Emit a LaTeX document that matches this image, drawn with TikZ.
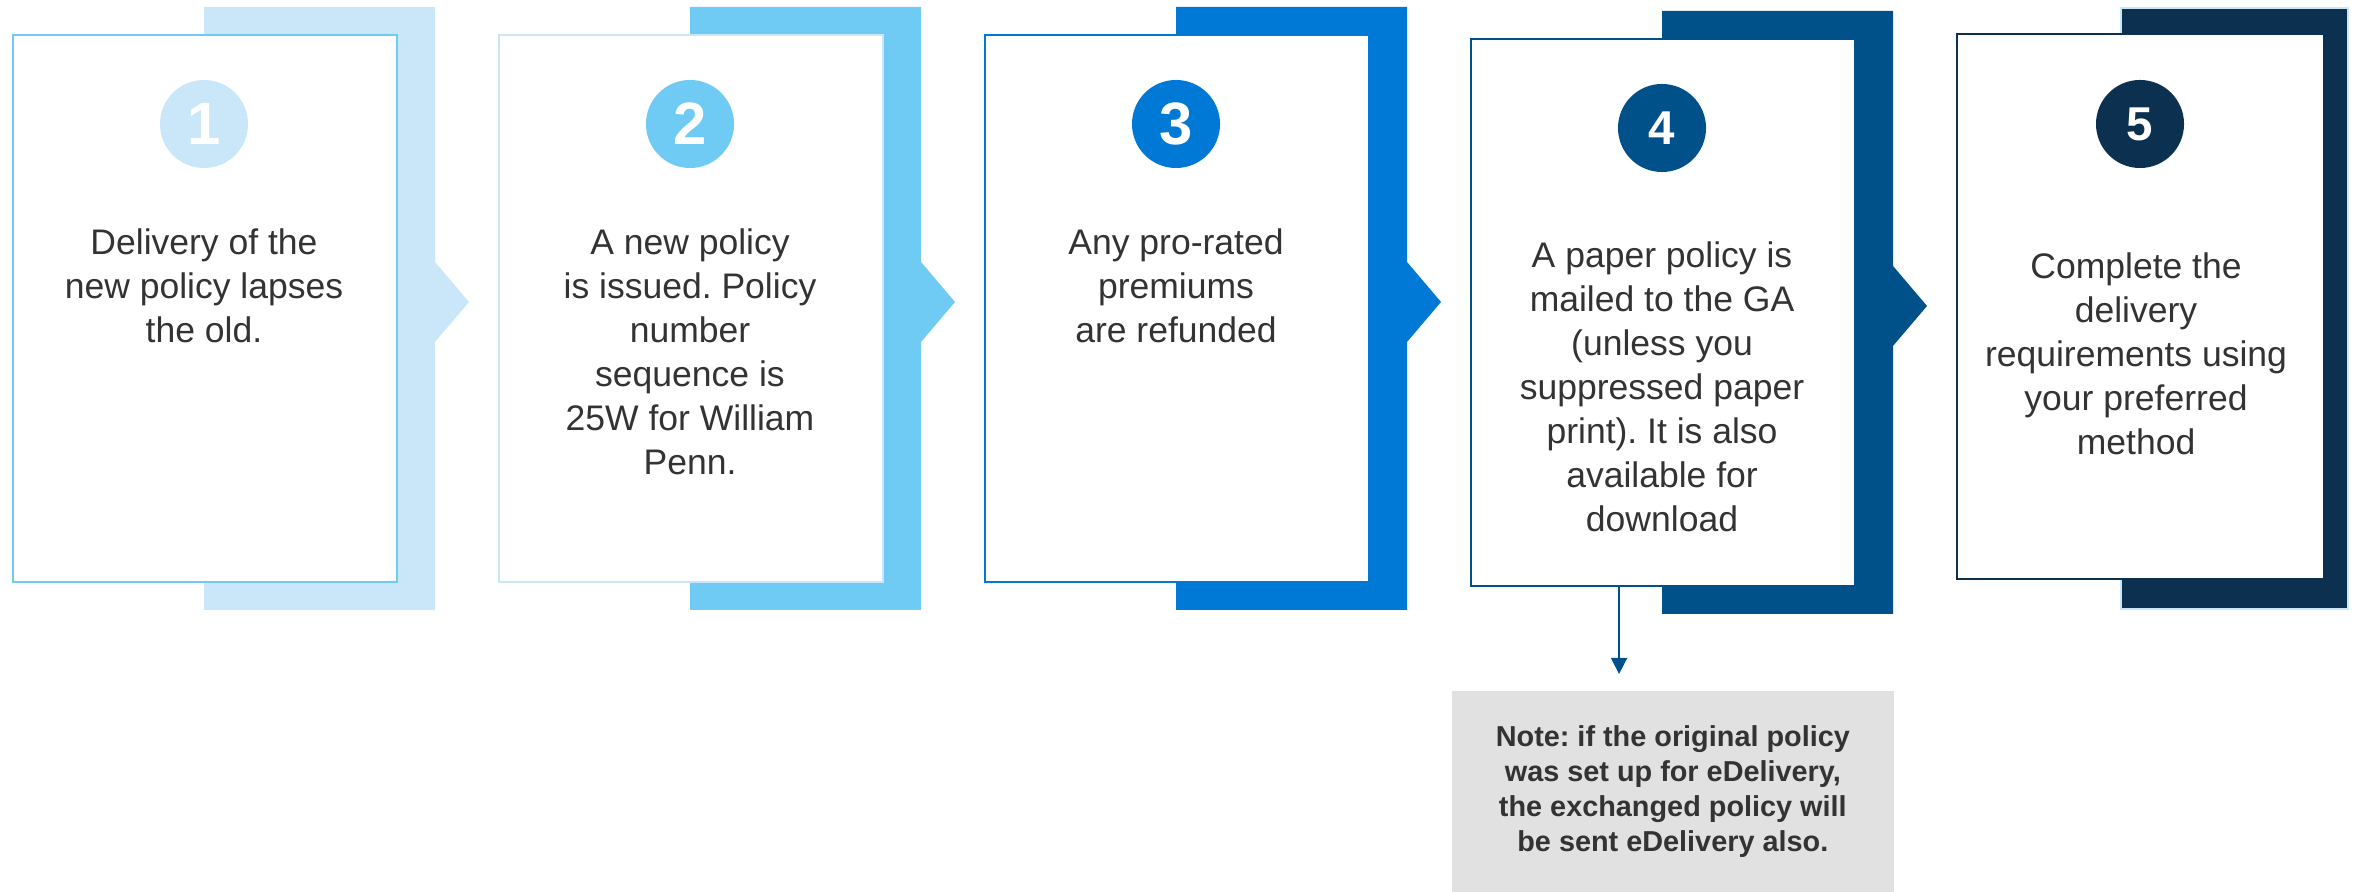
\documentclass[tikz,border=0pt]{standalone}
\usepackage{fontspec}
\setmainfont{Liberation Sans}
\usetikzlibrary{arrows.meta}
\frenchspacing

\definecolor{paleblue}{HTML}{C9E7F9}
\definecolor{skyblue}{HTML}{70CBF4}
\definecolor{midblue}{HTML}{0078D6}
\definecolor{deepblue}{HTML}{00508A}
\definecolor{navyblue}{HTML}{0C3150}
\definecolor{inkgray}{HTML}{333333}
\definecolor{notegray}{HTML}{E1E1E1}

\begin{document}
\begin{tikzpicture}[x=0.01cm, y=-0.01cm]
  \tikzset{
    card/.style={draw=#1, line width=0.55pt, fill=white, inner sep=0pt,
      minimum width=3.84cm, minimum height=5.47cm, anchor=north west},
    badge/.style={circle, fill=#1, text=white, inner sep=0pt, minimum size=0.88cm},
    lbl/.style={align=center, text=inkgray, inner sep=0pt, anchor=north,
      font=\fontsize{10.1}{12.5}\selectfont},
    note/.style={fill=notegray, anchor=north west, inner sep=0pt,
      minimum width=4.42cm, minimum height=2.02cm, align=center, text=inkgray,
      font=\bfseries\fontsize{8.2}{9.95}\selectfont}
  }
  \useasboundingbox (0,0) rectangle (2361,892);

  % — steps 1 to 4: band behind the card, with its chevron —
  \foreach \i/\col/\edge/\dy/\fs in {1/paleblue/skyblue/0/17, 2/skyblue/paleblue/0/17,
      3/midblue/midblue/0/17, 4/deepblue/deepblue/4/13.5} {
    \pgfmathtruncatemacro{\xa}{12+486*(\i-1)}
    \fill[\col] (\xa+192,7+\dy) -| (\xa+423,262+\dy) -- (\xa+457,302+\dy)
      -- (\xa+423,342+\dy) |- (\xa+192,610+\dy) -- cycle;
    \node[card=\edge] (card\i) at (\xa,34+\dy) {};
    \node[badge=\col, font=\bfseries\fontsize{\fs}{\fs}\selectfont] (num\i)
      at (\xa+192,124+\dy) {\i};
  }

  % — step 5: plain band —
  \fill[navyblue, draw=paleblue, line width=0.5pt] (2121,8) rectangle (2348,609);
  \node[card=navyblue, minimum width=3.67cm, minimum height=5.45cm] (card5) at (1956,33) {};
  \node[badge=navyblue, font=\bfseries\fontsize{13.5}{13.5}\selectfont] (num5) at (2140,124) {5};

  % step texts
  \node[lbl] (txt1) at (204,228) {Delivery of the\\new policy lapses\\the old.};
  \node[lbl] (txt2) at (690,228) {A new policy\\is issued. Policy\\number\\sequence is\\25W for William\\Penn.};
  \node[lbl] (txt3) at (1176,228) {Any pro-rated\\premiums\\are refunded};
  \node[lbl] (txt4) at (1662,241) {A paper policy is\\mailed to the GA\\(unless you\\suppressed paper\\print). It is also\\available for\\download};
  \node[lbl] (txt5) at (2136,252) {Complete the\\delivery\\requirements using\\your preferred\\method};

  % — note under step 4 —
  \node[note] (note) at (1451,690) {Note: if the original policy\\was set up for eDelivery,\\the exchanged policy will\\be sent eDelivery also.};
  \coordinate (drop) at ([xshift=-0.44cm]card4.south);
  \coordinate (stop) at ([yshift=0.16cm]note.north);
  \draw[deepblue, line width=0.45pt, -{Triangle[width=1.6mm, length=1.6mm]}] (drop) -- (drop |- stop);

\end{tikzpicture}
\end{document}
